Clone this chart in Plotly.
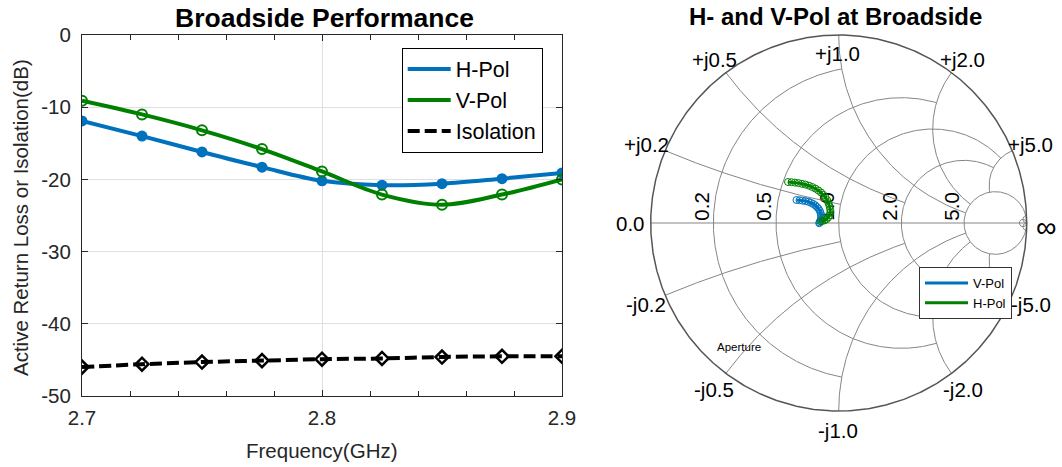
import numpy as np
import plotly.graph_objects as go

# ---------------- band data ----------------
freq_ghz = [2.7, 2.725, 2.75, 2.775, 2.8, 2.825, 2.85, 2.875, 2.9]
h_pol_db = [-11.9, -14.0, -16.2, -18.3, -20.2, -20.8, -20.6, -19.9, -19.1]
v_pol_db = [-9.1, -11.0, -13.2, -15.8, -18.9, -22.1, -23.5, -22.1, -20.0]
isolation_db = [-46.0, -45.6, -45.3, -45.1, -44.9, -44.8, -44.6, -44.5, -44.5]
db_ticks = [0, -10, -20, -30, -40, -50]
db_tick_text = ["0", "-10", "-20", "-30", "-40", "-50"]

# reflection coefficient across the band (real / imaginary part)
blue_gamma_re = [-0.2245, -0.2085, -0.1926, -0.1766, -0.1606, -0.1473, -0.1351, -0.1245,
                 -0.1154, -0.1070, -0.1005, -0.0960, -0.0935, -0.0935, -0.0955, -0.0985,
                 -0.1015, -0.1037]
blue_gamma_im = [0.1223, 0.1213, 0.1191, 0.1165, 0.1128, 0.1074, 0.1011, 0.0936,
                 0.0851, 0.0755, 0.0649, 0.0532, 0.0415, 0.0298, 0.0197, 0.0106,
                 0.0037, -0.0011]
green_gamma_re = [-0.2697, -0.2511, -0.2324, -0.2138, -0.1952, -0.1766, -0.1580, -0.1404,
                  -0.1239, -0.1085, -0.0941, -0.0814, -0.0702, -0.0612, -0.0537, -0.0484,
                  -0.0452, -0.0447, -0.0484, -0.0559, -0.0649, -0.0750, -0.0856, -0.0941]
green_gamma_im = [0.2181, 0.2170, 0.2149, 0.2122, 0.2085, 0.2043, 0.1984, 0.1915,
                  0.1830, 0.1734, 0.1622, 0.1495, 0.1356, 0.1207, 0.1048, 0.0883,
                  0.0718, 0.0559, 0.0415, 0.0293, 0.0202, 0.0144, 0.0112, 0.0096]

# Smith grid: (value, truncation limit of the other coordinate)
r_grid = [(0.2, 1), (0.5, 2), (1, 5), (2, 5), (5, np.inf), (50, np.inf)]
x_grid = [(0.2, 1), (0.5, 2), (1, 5), (2, 5), (5, 5), (50, np.inf)]
real_tick_values = [0.2, 0.5, 1.0, 2.0, 5.0]
imag_tick_labels = ["+j0.2", "+j0.5", "+j1.0", "+j2.0", "+j5.0",
                    "-j0.2", "-j0.5", "-j1.0", "-j2.0", "-j5.0"]

BLUE = "#0072BD"
GREEN = "#008000"
FONT = "Liberation Sans, Arial, Helvetica, sans-serif"
AX = "#262626"
W, H = 1062, 467


def to_gamma(z):
    return (z - 1) / (z + 1)


fig = go.Figure()

# ---------------- left: return loss / isolation ----------------
fig.add_trace(go.Scatter(x=freq_ghz, y=h_pol_db, mode="lines", name="H-Pol",
                         line=dict(color=BLUE, width=4, shape="spline"),
                         xaxis="x", yaxis="y", legend="legend"))
fig.add_trace(go.Scatter(x=freq_ghz, y=h_pol_db, mode="markers", showlegend=False,
                         marker=dict(color=BLUE, size=11, symbol="circle"),
                         xaxis="x", yaxis="y"))
fig.add_trace(go.Scatter(x=freq_ghz, y=v_pol_db, mode="lines", name="V-Pol",
                         line=dict(color=GREEN, width=4, shape="spline"),
                         xaxis="x", yaxis="y", legend="legend"))
fig.add_trace(go.Scatter(x=freq_ghz, y=v_pol_db, mode="markers", showlegend=False,
                         marker=dict(color=GREEN, size=10, symbol="circle-open",
                                     line=dict(color=GREEN, width=2)),
                         xaxis="x", yaxis="y"))
fig.add_trace(go.Scatter(x=freq_ghz, y=isolation_db, mode="lines", name="Isolation",
                         line=dict(color="black", width=4, dash="12px,5px", shape="spline"),
                         xaxis="x", yaxis="y", legend="legend"))
fig.add_trace(go.Scatter(x=freq_ghz, y=isolation_db, mode="markers", showlegend=False,
                         marker=dict(color="black", size=10, symbol="diamond-open",
                                     line=dict(color="black", width=2.5)),
                         xaxis="x", yaxis="y"))

# ---------------- right: Smith chart ----------------
gx, gy = [], []
for r, xmax in r_grid:
    if np.isinf(xmax):
        g = r / (1 + r) + np.exp(1j * np.linspace(0, 2 * np.pi, 361)) / (1 + r)
    else:
        g = to_gamma(r + 1j * np.linspace(-xmax, xmax, 401))
    gx += list(g.real) + [None]
    gy += list(g.imag) + [None]
for xv, rmax in x_grid:
    if np.isinf(rmax):
        rs = np.tan(np.linspace(0, np.pi / 2 - 1e-4, 401))
    else:
        rs = np.linspace(0, rmax, 401)
    for s in (1, -1):
        g = to_gamma(rs + 1j * s * xv)
        gx += list(g.real) + [None]
        gy += list(g.imag) + [None]
gx += [-1, 1, None]
gy += [0, 0, None]
fig.add_trace(go.Scatter(x=gx, y=gy, mode="lines", showlegend=False, hoverinfo="skip",
                         line=dict(color="#858585", width=1), xaxis="x2", yaxis="y2"))
edge = np.exp(1j * np.linspace(0, 2 * np.pi, 721))
fig.add_trace(go.Scatter(x=edge.real, y=edge.imag, mode="lines", showlegend=False,
                         hoverinfo="skip", line=dict(color="#555555", width=1.5),
                         xaxis="x2", yaxis="y2"))

fig.add_trace(go.Scatter(x=blue_gamma_re, y=blue_gamma_im, mode="lines", name="V-Pol",
                         line=dict(color=BLUE, width=3), xaxis="x2", yaxis="y2",
                         legend="legend2"))
fig.add_trace(go.Scatter(x=blue_gamma_re, y=blue_gamma_im, mode="markers", showlegend=False,
                         marker=dict(symbol="circle-open", size=7, color=BLUE,
                                     line=dict(color=BLUE, width=1)),
                         xaxis="x2", yaxis="y2"))
fig.add_trace(go.Scatter(x=green_gamma_re, y=green_gamma_im, mode="lines", name="H-Pol",
                         line=dict(color=GREEN, width=3), xaxis="x2", yaxis="y2",
                         legend="legend2"))
fig.add_trace(go.Scatter(x=green_gamma_re, y=green_gamma_im, mode="markers", showlegend=False,
                         marker=dict(symbol="circle-open", size=7, color=GREEN,
                                     line=dict(color=GREEN, width=1)),
                         xaxis="x2", yaxis="y2"))

# real-axis values written along the axis, underneath the traces
shapes = []
for v in real_tick_values:
    cx = float(to_gamma(v)) - 0.072
    shapes.append(dict(type="rect", xref="x2", yref="y2", x0=cx - 0.04, x1=cx + 0.04,
                       y0=0.008, y1=0.168, line=dict(width=0), fillcolor="rgba(0,0,0,0)",
                       layer="below",
                       label=dict(text=f"{v:.1f}", textangle=-90, textposition="middle center",
                                  font=dict(family=FONT, size=20.5, color="black"))))


def text(x, y, s, size, ref="x2", color="black", angle=0):
    xr, yr = (ref, "y2") if ref == "x2" else ("paper", "paper")
    return dict(x=x, y=y, xref=xr, yref=yr, text=s, showarrow=False, textangle=angle,
                xanchor="center", yanchor="middle",
                font=dict(family=FONT, size=size, color=color))


imag_label_pos = [(-1.025, 0.415), (-0.663, 0.872), (-0.009, 0.904), (0.656, 0.872), (1.021, 0.415),
                  (-1.025, -0.431), (-0.663, -0.888), (-0.004, -1.106), (0.661, -0.888), (1.023, -0.431)]
annotations = [text(px, py, lab, 20.5) for lab, (px, py) in zip(imag_tick_labels, imag_label_pos)]
annotations += [
    text(-1.110, -0.005, "0.0", 20.5),
    text(1.103, -0.021, "\u221e", 29),
    text(-0.533, -0.660, "Aperture", 11.5),
    text(835 / W, 1 - 16.5 / H, "<b>H- and V-Pol at Broadside</b>", 24, ref="paper"),
    text(324 / W, 1 - 18 / H, "<b>Broadside Performance</b>", 26.5, ref="paper"),
    text(322 / W, 1 - 450 / H, "Frequency(GHz)", 20.5, ref="paper", color=AX),
    text(20 / W, 1 - 218 / H, "Active Return Loss or Isolation(dB)", 20.5, ref="paper",
         color=AX, angle=-90),
]

fig.update_layout(
    width=W, height=H,
    margin=dict(l=0, r=0, t=0, b=0, pad=0, autoexpand=False),
    paper_bgcolor="white", plot_bgcolor="white",
    font=dict(family=FONT, size=20.5, color=AX),
    xaxis=dict(domain=[82 / W, 562 / W], range=[2.7, 2.9], tick0=2.7, dtick=0.1,
               tickformat=".1f", ticks="inside", ticklen=6, tickcolor=AX, showline=True,
               linecolor=AX, linewidth=1, mirror="ticks", showgrid=True, gridcolor="#dfdfdf",
               zeroline=False, ticklabelstandoff=3, automargin=False,
               minor=dict(dtick=0.02, tick0=2.7, ticks="inside", ticklen=5, tickcolor=AX,
                          showgrid=False),
               tickfont=dict(family=FONT, size=20.5, color=AX)),
    yaxis=dict(domain=[1 - 396 / H, 1 - 35 / H], range=[-50, 0], tickmode="array",
               tickvals=db_ticks, ticktext=db_tick_text,
               ticks="inside", ticklen=6, tickcolor=AX, showline=True, linecolor=AX,
               linewidth=1, mirror="ticks", showgrid=True, gridcolor="#dfdfdf",
               zeroline=False, ticklabelstandoff=6, automargin=False,
               tickfont=dict(family=FONT, size=20.5, color=AX)),
    xaxis2=dict(domain=[622.5 / W, 1054.9 / W], range=[-1.15, 1.15], visible=False,
                anchor="y2", automargin=False),
    yaxis2=dict(domain=[1 - 439.2 / H, 1 - 6.8 / H], range=[-1.15, 1.15], visible=False,
                anchor="x2", automargin=False),
    legend=dict(x=401.7 / W, y=1 - 47.5 / H, xanchor="left", yanchor="top",
                bgcolor="white", bordercolor="black", borderwidth=1, itemwidth=43,
                font=dict(family=FONT, size=21.5, color="black"), tracegroupgap=0),
    legend2=dict(x=919 / W, y=1 - 267 / H, xanchor="left", yanchor="top",
                 bgcolor="white", bordercolor="#333333", borderwidth=1, itemwidth=43,
                 font=dict(family=FONT, size=13, color="black"), tracegroupgap=0),
    shapes=shapes,
    annotations=annotations,
    hovermode=False,
)

fig.write_html("out.html")
